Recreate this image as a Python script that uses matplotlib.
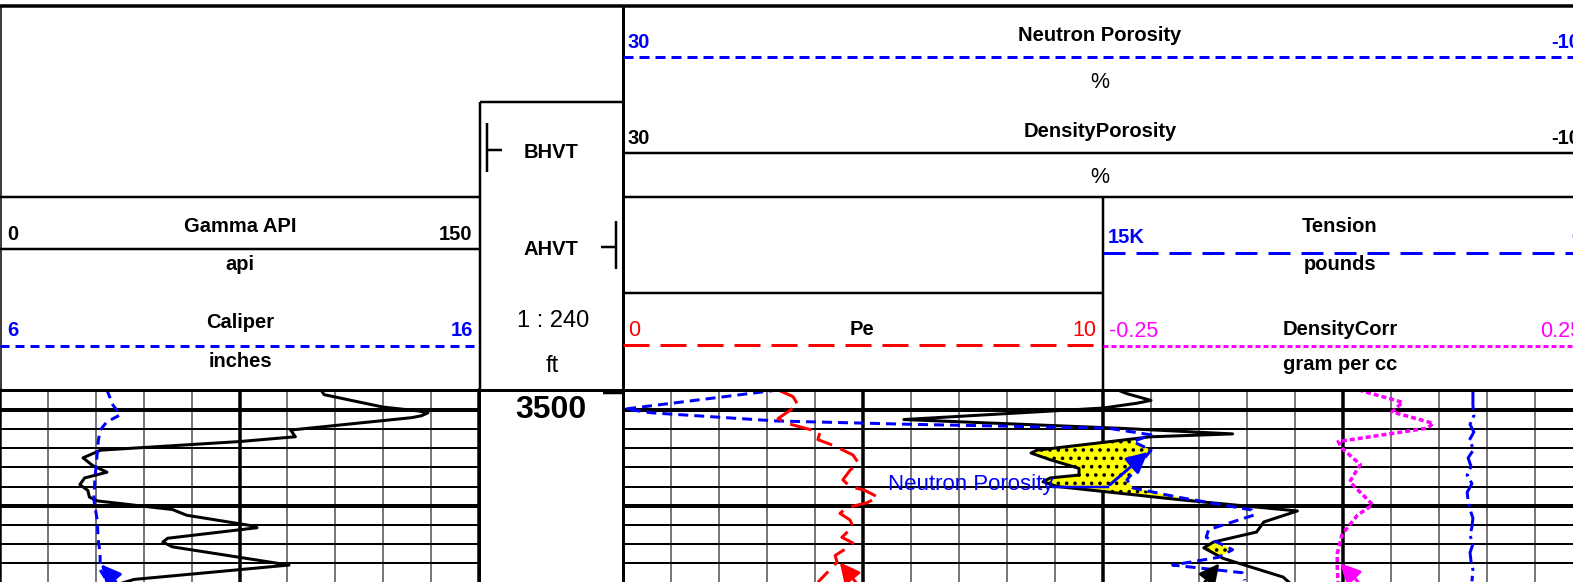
import numpy as np
import matplotlib
matplotlib.use("Agg")
import matplotlib.pyplot as plt
from matplotlib.ticker import MultipleLocator

plt.rcParams["font.family"] = ["Liberation Sans", "DejaVu Sans"]
plt.rcParams["lines.scale_dashes"] = False
plt.rcParams["lines.solid_joinstyle"] = "round"
plt.rcParams["lines.dash_joinstyle"] = "round"
plt.rcParams["hatch.linewidth"] = 1.4

# ---- log curves (depth in ft) ----
gr_depth = [3497.9, 3498.4, 3499.0, 3499.7, 3500.1, 3500.3, 3500.6, 3500.8, 3502.1, 3502.8,
            3503.3, 3504.2, 3505.0, 3505.8, 3506.5, 3507.1, 3507.8, 3508.4, 3509.1, 3509.5,
            3510.4, 3511.0, 3512.1, 3512.3, 3513.4, 3513.8, 3514.3, 3516.2, 3517.7, 3518.1]
gr_api = [100.5, 101.5, 110, 120, 131, 134, 132, 129, 91, 92.5,
          75, 31.5, 26, 29, 33.5, 26.5, 25, 27.5, 28, 30.5,
          54, 58.5, 79, 80.5, 52.5, 51, 54, 90.5, 42, 38]

cal_depth = [3497.9, 3499.5, 3500.5, 3500.8, 3501.25, 3502.1, 3503.3, 3504.5, 3507.3,
             3509.4, 3511.5, 3513.6, 3514.9, 3516.7, 3518.0]
cal_in = [8.23, 8.36, 8.51, 8.40, 8.23, 8.09, 8.05, 8.03, 7.98,
          7.96, 8.03, 8.05, 8.09, 8.09, 8.25]

nphi_depth = [3497.9, 3499.9, 3500.3, 3501.15, 3501.5, 3501.9, 3502.6, 3503.3, 3504.2,
              3507.3, 3508.15, 3509.1, 3510.45, 3510.97, 3512.5, 3513.3, 3514.1, 3514.6,
              3515.4, 3516.2, 3517.0, 3517.8]
nphi = [23.5, 29.9, 28.8, 23.6, 18.0, 9.8, 8.0, 8.75, 8.0,
        9.0, 8.75, 6.9, 3.8, 3.7, 5.6, 5.7, 5.0, 4.6,
        5.2, 7.1, 4.2, 4.1]

dphi_depth = [3497.9, 3498.3, 3499.0, 3499.3, 3499.8, 3501.0, 3501.9, 3502.5, 3502.8, 3504.2,
              3504.5, 3505.2, 3506.1, 3506.8, 3507.1, 3507.5, 3508.0, 3509.4, 3510.55, 3511.7,
              3512.75, 3513.8, 3514.4, 3515.5, 3517.45, 3518.1]
dphi = [9.4, 9.0, 8.0, 8.6, 10.0, 18.3, 9.4, 4.6, 8.0, 12.75,
        13.0, 12.2, 11.0, 11.0, 12.2, 12.5, 11.9, 6.7, 1.9, 3.3,
        3.6, 5.4, 5.8, 5.0, 2.5, 2.2]

pe_depth = [3498.0, 3498.6, 3499.5, 3499.9, 3500.9, 3501.4, 3502.1, 3502.4, 3503.1, 3503.7,
            3504.7, 3505.5, 3506.3, 3507.3, 3508.0, 3508.4, 3509.1, 3509.7, 3510.2, 3510.8,
            3511.5, 3512.2, 3513.3, 3513.9, 3514.4, 3515.2, 3515.9, 3518.0]
pe = [3.27, 3.54, 3.65, 3.52, 3.23, 3.42, 3.94, 4.10, 4.06, 4.38,
      4.79, 4.90, 4.73, 4.58, 4.73, 5.04, 5.31, 5.08, 4.67, 4.52,
      4.73, 4.79, 4.56, 4.79, 4.67, 4.42, 4.46, 4.06]

ten_depth = [3497.9, 3499.5, 3500.6, 3501.5, 3502.3, 3503.2, 3504.1, 3505.0, 3505.9, 3506.8, 3507.7,
             3508.6, 3509.5, 3510.4, 3511.3, 3512.2, 3513.1, 3514.0, 3514.9, 3515.8, 3516.7, 3517.9]
tension = [3440, 3440, 3410, 3530, 3410, 3560, 3410, 3590, 3500, 3620, 3470,
           3620, 3590, 3530, 3440, 3470, 3530, 3440, 3530, 3500, 3440, 3470]

drho_depth = [3497.9, 3499.2, 3500.2, 3501.4, 3501.9, 3503.3, 3504.0, 3505.7, 3507.5,
              3509.9, 3511.0, 3513.0, 3515.0, 3516.5, 3518.1]
drho = [0.016, 0.062, 0.051, 0.094, 0.088, -0.005, -0.001, 0.018, 0.007,
        0.031, 0.015, -0.001, -0.006, -0.006, -0.005]

# continuation arrows at the bottom of the window: (tip value, tip depth, tail value, tail depth)
cal_arrow = (8.07, 3515.9, 8.46, 3518.2)
pe_arrow = (4.48, 3515.7, 4.9, 3518.3)
dphi_arrow = (5.08, 3515.8, 5.83, 3518.2)
drho_arrow = (-0.005, 3515.8, 0.018, 3518.2)
nphi_callout = (8.04, 3504.2, 9.8, 3508.0, 12.1)

top_depth, bottom_depth = 3497.81, 3517.97

# ---- layout in pixels ----
W, H = 1573, 582
LOG_TOP = 389


def px(v):
    # pixels -> points at 100 dpi
    return v * 0.72


fig = plt.figure(figsize=(W / 100, H / 100), dpi=100)
fig.patch.set_facecolor("white")


def add_track(x0, x1, **kw):
    return fig.add_axes([x0 / W, 0, (x1 - x0) / W, (H - LOG_TOP) / H], **kw)


def style_track(ax, xmaj, xmin):
    ax.set_ylim(bottom_depth, top_depth)
    ax.xaxis.set_major_locator(MultipleLocator(xmaj))
    ax.xaxis.set_minor_locator(MultipleLocator(xmin))
    ax.yaxis.set_major_locator(MultipleLocator(10))
    ax.yaxis.set_minor_locator(MultipleLocator(2))
    ax.grid(axis="x", which="major", color="black", lw=px(3.5))
    ax.grid(axis="x", which="minor", color="#4d4d4d", lw=px(1.5))
    ax.grid(axis="y", which="major", color="black", lw=px(4))
    ax.grid(axis="y", which="minor", color="black", lw=px(2))
    ax.tick_params(which="both", length=0, labelbottom=False, labelleft=False)
    for s in ("top", "bottom"):
        ax.spines[s].set_visible(False)
    for s in ("left", "right"):
        ax.spines[s].set_linewidth(px(3))


def overlay(x0, x1, xlim, share):
    ax = add_track(x0, x1, sharey=share)
    ax.set_xlim(*xlim)
    ax.axis("off")
    return ax


def arrow(ax, spec, color):
    ax.annotate("", xy=(spec[0], spec[1]), xytext=(spec[2], spec[3]),
                arrowprops=dict(arrowstyle="-|>", color=color, lw=px(3), mutation_scale=30),
                annotation_clip=False)


# ---- track 1: gamma ray + caliper ----
ax_gr = add_track(0, 479)
ax_gr.set_xlim(0, 150)
style_track(ax_gr, 75, 15)
ax_gr.spines["left"].set_linewidth(px(1.5))
ax_gr.plot(gr_api, gr_depth, color="black", lw=px(3))

ax_cal = overlay(0, 479, (6, 16), ax_gr)
ax_cal.plot(cal_in, cal_depth, color="blue", lw=px(3), dashes=(px(9), px(6)))
arrow(ax_cal, cal_arrow, "blue")

# ---- depth track ----
ax_dep = add_track(479, 623)
ax_dep.set_xlim(0, 1)
ax_dep.set_ylim(bottom_depth, top_depth)
ax_dep.set_xticks([])
ax_dep.set_yticks([])
for s in ("top", "bottom"):
    ax_dep.spines[s].set_visible(False)
for s in ("left", "right"):
    ax_dep.spines[s].set_linewidth(px(3))
ax_dep.text(0.5, 3500, "3500", ha="center", va="center", fontsize=23, fontweight="bold")
ax_dep.hlines(3498.2, 0.86, 1.0, color="black", lw=px(2.5))

# ---- track 2/3: porosity, Pe, tension, density correction ----
ax_por = add_track(623, 1583)
ax_por.set_xlim(30, -10)
style_track(ax_por, 10, 2)

d_fill = np.linspace(3497.9, 3518.0, 1200)
a = np.interp(d_fill, dphi_depth, dphi)
b = np.interp(d_fill, nphi_depth, nphi)
ax_por.fill_betweenx(d_fill, a, b, where=a > b, interpolate=True, facecolor="yellow",
                     edgecolor="black", hatch="..", lw=0, zorder=1.8)
ax_por.plot(dphi, dphi_depth, color="black", lw=px(3))
ax_por.plot(nphi, nphi_depth, color="blue", lw=px(3), dashes=(px(10), px(6)))
arrow(ax_por, dphi_arrow, "black")

tip_v, tip_d, knee_v, knee_d, start_v = nphi_callout
ax_por.plot([start_v, knee_v], [knee_d, knee_d], color="blue", lw=px(2.5))
ax_por.annotate("", xy=(tip_v, tip_d), xytext=(knee_v, knee_d),
                arrowprops=dict(arrowstyle="-|>", color="blue", lw=px(3), mutation_scale=32))
ax_por.text(18.96, 3507.8, "Neutron Porosity", color="blue", fontsize=16,
            ha="left", va="center", zorder=4)

ax_pe = overlay(623, 1103, (0, 10), ax_por)
ax_pe.plot(pe, pe_depth, color="red", lw=px(3), dashes=(px(22), px(9)))
arrow(ax_pe, pe_arrow, "red")

ax_ten = overlay(1103, 1583, (15000, 0), ax_por)
ax_ten.plot(tension, ten_depth, color="blue", lw=px(3),
            dashes=(px(20), px(5), px(3), px(5)))

ax_drho = overlay(1103, 1583, (-0.25, 0.25), ax_por)
ax_drho.plot(drho, drho_depth, color="magenta", lw=px(3.5), dashes=(px(5), px(3)))
arrow(ax_drho, drho_arrow, "magenta")

# ---- header (pixel coordinates) ----
hdr = fig.add_axes([0, 0, 1, 1])
hdr.set_xlim(0, W)
hdr.set_ylim(H, 0)
hdr.axis("off")
hdr.set_zorder(10)

k = dict(color="black", lw=px(2.5))
hdr.hlines(6, 0, W, color="black", lw=px(3.5))
hdr.vlines(0.8, 6, LOG_TOP, color="black", lw=px(1.5))
hdr.hlines([197, 249], 0, 479, **k)
hdr.hlines(390, 0, W, color="black", lw=px(3))
hdr.hlines(102, 480, 623, **k)
hdr.vlines(480, 102, LOG_TOP, **k)
hdr.vlines(623, 6, LOG_TOP, color="black", lw=px(3))
hdr.hlines(197, 623, W, **k)
hdr.vlines(1103, 197, LOG_TOP, **k)
hdr.hlines(293, 623, 1103, **k)

# curve keys
hdr.hlines(57, 623, W, color="blue", lw=px(3), linestyles=[(0, (px(10), px(6)))])
hdr.hlines(153, 623, W, color="black", lw=px(2.5))
hdr.hlines(346, 0, 479, color="blue", lw=px(3), linestyles=[(0, (px(9), px(6)))])
hdr.hlines(345, 623, 1103, color="red", lw=px(3), linestyles=[(0, (px(26), px(11)))])
hdr.hlines(253, 1103, W, color="blue", lw=px(3), linestyles=[(0, (px(22), px(11)))])
hdr.hlines(346, 1103, W, color="magenta", lw=px(3), linestyles=[(0, (px(5), px(3)))])

# BHVT / AHVT symbols
hdr.vlines(487, 123, 172, **k)
hdr.hlines(150, 487, 502, **k)
hdr.vlines(616, 221, 269, **k)
hdr.hlines(247, 601, 616, **k)

bold = dict(fontsize=14.5, fontweight="bold", va="baseline")
reg = dict(fontsize=15.5, va="baseline")

# gamma / caliper
hdr.text(7, 240, "0", ha="left", **bold)
hdr.text(240, 232, "Gamma API", ha="center", **bold)
hdr.text(472, 240, "150", ha="right", **bold)
hdr.text(240, 270, "api", ha="center", **bold)
hdr.text(7, 336, "6", ha="left", color="blue", **bold)
hdr.text(240, 328, "Caliper", ha="center", **bold)
hdr.text(473, 336, "16", ha="right", color="blue", **bold)
hdr.text(240, 367, "inches", ha="center", **bold)

# depth column
hdr.text(551, 158, "BHVT", ha="center", **bold)
hdr.text(551, 255, "AHVT", ha="center", **bold)
hdr.text(553, 327, "1 : 240", ha="center", fontsize=17, va="baseline")
hdr.text(552, 372, "ft", ha="center", fontsize=17, va="baseline")

# porosity
hdr.text(628, 48, "30", ha="left", color="blue", **bold)
hdr.text(1100, 41, "Neutron Porosity", ha="center", **bold)
hdr.text(1580, 48, "-10", ha="right", color="blue", **bold)
hdr.text(1100, 88, "%", ha="center", **reg)
hdr.text(628, 144, "30", ha="left", **bold)
hdr.text(1100, 137, "DensityPorosity", ha="center", **bold)
hdr.text(1580, 144, "-10", ha="right", **bold)
hdr.text(1100, 183, "%", ha="center", **reg)

# Pe
hdr.text(628, 336, "0", ha="left", color="red", **reg)
hdr.text(862, 335, "Pe", ha="center", **bold)
hdr.text(1096, 336, "10", ha="right", color="red", **reg)

# tension / density correction
hdr.text(1108, 243, "15K", ha="left", color="blue", **bold)
hdr.text(1340, 232, "Tension", ha="center", **bold)
hdr.text(1582, 243, "0", ha="right", color="blue", **bold)
hdr.text(1340, 270, "pounds", ha="center", **bold)
hdr.text(1109, 337, "-0.25", ha="left", color="magenta", **reg)
hdr.text(1340, 335, "DensityCorr", ha="center", **bold)
hdr.text(1582, 337, "0.25", ha="right", color="magenta", **reg)
hdr.text(1340, 370, "gram per cc", ha="center", **bold)

fig.savefig("out.png", dpi=100, facecolor="white")
